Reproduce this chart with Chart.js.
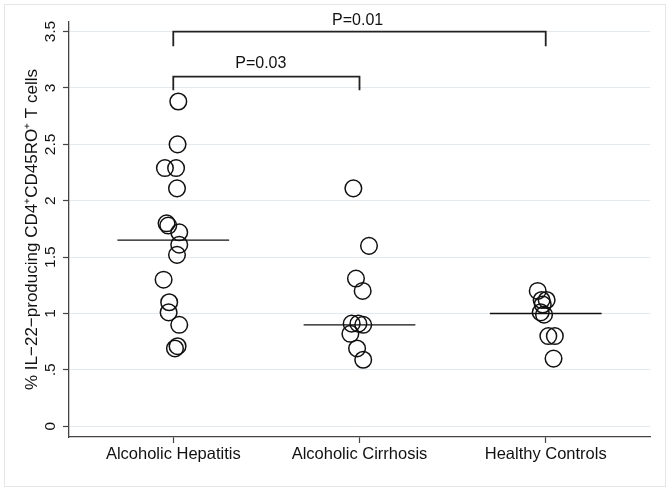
<!DOCTYPE html>
<html>
<head>
<meta charset="utf-8">
<script src="https://cdn.jsdelivr.net/npm/chart.js@4/dist/chart.umd.min.js"></script>
<style>
  html, body { margin: 0; padding: 0; background: #fff; }
</style>
</head>
<body>
<canvas id="chart" width="672" height="491"></canvas>
<script>
const categories = ['Alcoholic Hepatitis', 'Alcoholic Cirrhosis', 'Healthy Controls'];

// jittered x (in category units) and value of each circle
const hepatitisX = [1.027, 1.023, 0.955, 1.015, 1.020, 0.964, 0.973, 1.032, 1.032, 1.020, 0.948, 0.978, 0.975, 1.032, 1.023, 1.009];
const hepatitisY = [2.88, 2.50, 2.29, 2.29, 2.11, 1.80, 1.78, 1.72, 1.61, 1.52, 1.30, 1.10, 1.01, 0.90, 0.71, 0.69];

const cirrhosisX = [1.967, 2.051, 1.981, 2.017, 1.958, 1.994, 2.020, 1.951, 1.987, 2.020];
const cirrhosisY = [2.11, 1.60, 1.31, 1.20, 0.91, 0.91, 0.90, 0.82, 0.69, 0.59];

const controlsX = [2.957, 2.978, 3.005, 2.984, 2.973, 2.991, 3.014, 3.049, 3.042];
const controlsY = [1.20, 1.12, 1.12, 1.08, 1.01, 0.99, 0.80, 0.80, 0.60];

const medians = [1.65, 0.90, 1.00];

const yTicks = [0, 0.5, 1, 1.5, 2, 2.5, 3, 3.5];
const yTickLabels = ['0', '.5', '1', '1.5', '2', '2.5', '3', '3.5'];

// significance brackets
const bracketFrom = [1, 1];
const bracketTo = [3, 2];
const bracketTop = [3.5, 3.1];
const bracketLeg = [3.37, 2.98];
const pLabels = ['P=0.01', 'P=0.03'];
const pLabelX = [1.99, 1.47];
const pLabelY = [3.6, 3.22];

const FONT = "'Liberation Sans', Arial, Helvetica, sans-serif";
const INK = '#111';

function points(xs, ys) {
    return xs.map((x, i) => ({ x: x, y: ys[i] }));
}

const groups = [[hepatitisX, hepatitisY], [cirrhosisX, cirrhosisY], [controlsX, controlsY]];

const datasets = [];

groups.forEach(g => {
    datasets.push({
        data: points(g[0], g[1]),
        pointStyle: 'circle',
        pointRadius: 8.3,
        pointBorderWidth: 1.5,
        pointBorderColor: INK,
        pointBackgroundColor: 'rgba(0,0,0,0)'
    });
});

medians.forEach((m, i) => {
    datasets.push({
        data: [{ x: i + 1 - 0.3, y: m }, { x: i + 1 + 0.3, y: m }],
        showLine: true,
        borderColor: INK,
        borderWidth: 1.3,
        pointRadius: 0
    });
});

bracketFrom.forEach((a, i) => {
    const b = bracketTo[i];
    datasets.push({
        data: [
            { x: a, y: bracketLeg[i] }, { x: a, y: bracketTop[i] },
            { x: b, y: bracketTop[i] }, { x: b, y: bracketLeg[i] }
        ],
        showLine: true,
        borderColor: '#222',
        borderWidth: 1.8,
        pointRadius: 0,
        clip: false
    });
});

// light outer frame and the P value texts
const extras = {
    id: 'extras',
    beforeDraw(chart) {
        const ctx = chart.ctx;
        ctx.save();
        ctx.strokeStyle = '#e6e6e6';
        ctx.lineWidth = 1;
        ctx.strokeRect(4.5, 4.5, 661, 482);
        ctx.restore();
    },
    afterDraw(chart) {
        const ctx = chart.ctx;
        const xs = chart.scales.x, ys = chart.scales.y;
        ctx.save();
        ctx.fillStyle = INK;
        ctx.font = '16px ' + FONT;
        ctx.textAlign = 'center';
        ctx.textBaseline = 'middle';
        pLabels.forEach((t, i) => {
            ctx.fillText(t, xs.getPixelForValue(pLabelX[i]), ys.getPixelForValue(pLabelY[i]));
        });
        ctx.restore();
    }
};

new Chart(document.getElementById('chart'), {
    type: 'scatter',
    data: { datasets: datasets },
    plugins: [extras],
    options: {
        responsive: false,
        animation: false,
        devicePixelRatio: 1,
        events: [],
        layout: { padding: { top: 22, right: 22, left: 0, bottom: 0 } },
        plugins: {
            legend: { display: false },
            tooltip: { enabled: false }
        },
        scales: {
            x: {
                type: 'linear',
                min: 0.44,
                max: 3.56,
                afterBuildTicks: s => { s.ticks = categories.map((c, i) => ({ value: i + 1 })); },
                afterFit: s => { s.height = 54; },
                ticks: {
                    callback: (v, i) => categories[i],
                    color: INK,
                    font: { family: FONT, size: 16.5 },
                    padding: 2,
                    maxRotation: 0
                },
                grid: {
                    drawOnChartArea: false,
                    drawTicks: true,
                    tickLength: 6,
                    tickColor: '#444',
                    tickWidth: 1.2
                },
                border: { color: '#444', width: 1.3 }
            },
            y: {
                type: 'linear',
                min: -0.095,
                max: 3.585,
                afterBuildTicks: s => { s.ticks = yTicks.map(v => ({ value: v })); },
                afterFit: s => { s.width = 69; },
                ticks: {
                    callback: (v, i) => yTickLabels[i],
                    color: INK,
                    font: { family: FONT, size: 15.5 },
                    minRotation: 90,
                    maxRotation: 90,
                    crossAlign: 'center',
                    padding: 2
                },
                grid: {
                    color: '#e4e9ee',
                    lineWidth: 1,
                    drawTicks: true,
                    tickLength: 6,
                    tickColor: '#444',
                    tickWidth: 1.2
                },
                border: { color: '#444', width: 1.3 },
                title: {
                    display: true,
                    text: '% IL\u221222\u2212producing CD4\u207ACD45RO\u207A T cells',
                    color: INK,
                    font: { family: FONT, size: 17 },
                    padding: { top: 22, bottom: 0 }
                }
            }
        }
    }
});
</script>
</body>
</html>
